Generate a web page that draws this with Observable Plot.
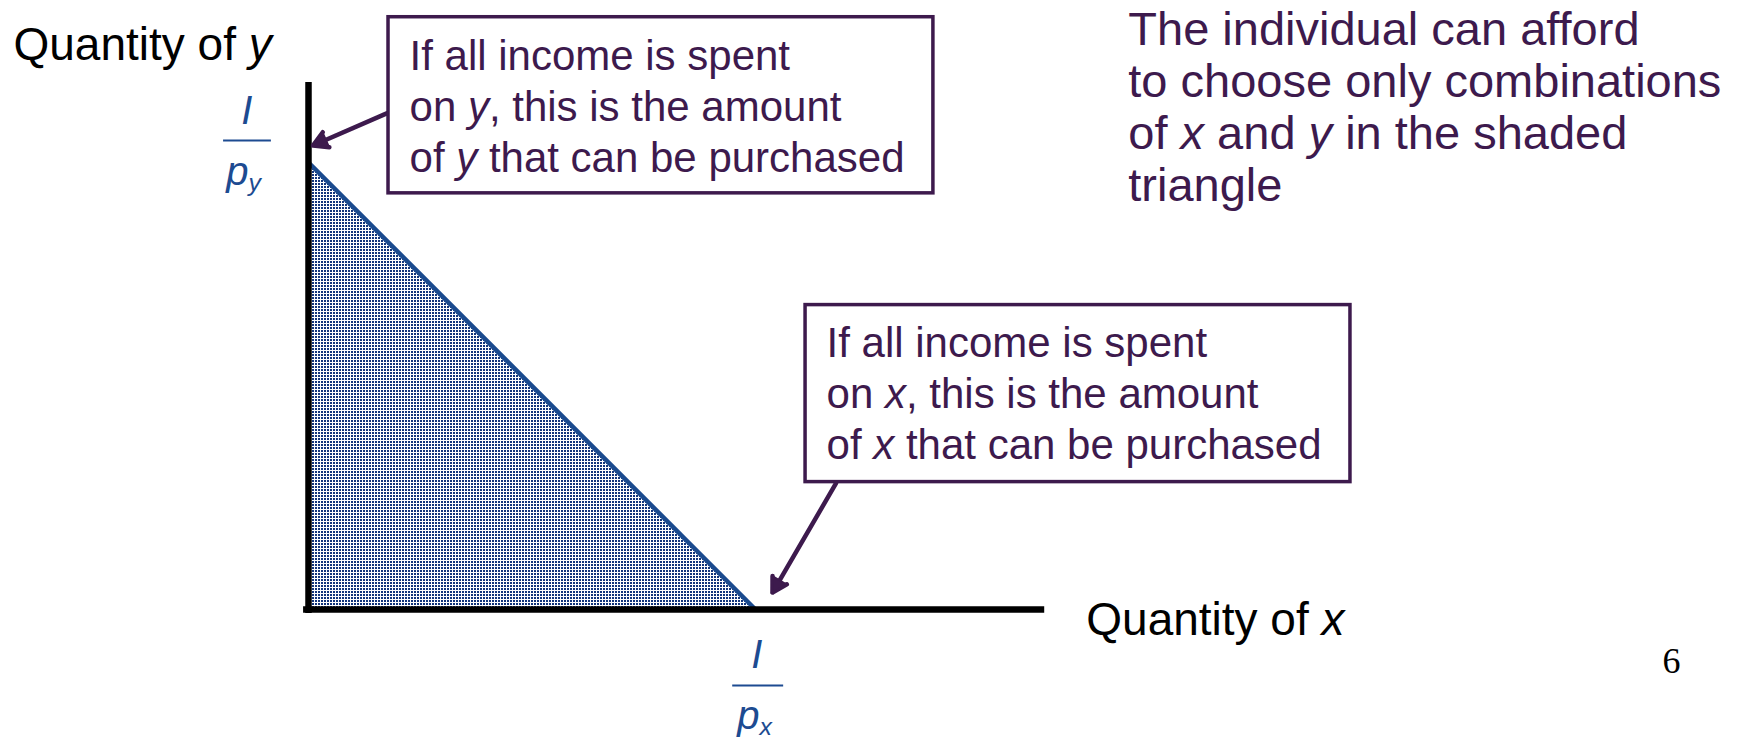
<!DOCTYPE html>
<html>
<head>
<meta charset="utf-8">
<script src="https://cdn.jsdelivr.net/npm/d3@7"></script>
<script src="https://cdn.jsdelivr.net/npm/@observablehq/plot@0.6"></script>
<style>
  html, body { margin: 0; padding: 0; background: #ffffff; }
</style>
</head>
<body>
<div id="chart"></div>
<script>
// ---- Data ----
const budgetX = [0, 10];          // quantity of x along the budget line (I/px = 10)
const budgetY = [10, 0];          // quantity of y along the budget line (I/py = 10)
const axisTitleY = ["Quantity of *y*"];
const axisTitleX = ["Quantity of *x*"];
const interceptNum = ["*I*"];
const interceptDenY = ["*p*_{y}"];
const interceptDenX = ["*p*_{x}"];
const noteY = ["If all income is spent\non *y*, this is the amount\nof *y* that can be purchased"];
const noteX = ["If all income is spent\non *x*, this is the amount\nof *x* that can be purchased"];
const sideNote = ["The individual can afford\nto choose only combinations\nof *x* and *y* in the shaded\ntriangle"];
const pageNumber = ["6"];

// ---- Styles ----
const purple = "#3d1a4d";
const blue = "#1d4b91";
const dotBlue = "#12357c";
const sans = "Liberation Sans, Arial, Helvetica, sans-serif";

const budget = budgetX.map((x, i) => ({x, y: budgetY[i]}));

const svg = Plot.plot({
  width: 1746,
  height: 740,
  x: {domain: [0, 10], range: [308, 755], axis: null},
  y: {domain: [0, 10], range: [609, 162], axis: null},
  style: {fontFamily: sans, background: "#ffffff", overflow: "visible"},
  marks: [
    // shaded affordable set
    Plot.areaY(budget, {x: "x", y: "y", fill: blue}),
    // budget line
    Plot.line(budget, {x: "x", y: "y", stroke: "#1a4a8e", strokeWidth: 4.5}),
    // axes
    Plot.ruleX([0], {y1: -0.09, y2: 11.79, stroke: "#000", strokeWidth: 6.5}),
    Plot.ruleY([0], {x1: -0.11, x2: 16.47, stroke: "#000", strokeWidth: 6.5}),
    // callout boxes
    Plot.rect([0], {x1: 1.79, x2: 13.98, y1: 9.31, y2: 13.25, fill: "#fff", stroke: purple, strokeWidth: 3.5}),
    Plot.rect([0], {x1: 11.12, x2: 23.31, y1: 2.85, y2: 6.81, fill: "#fff", stroke: purple, strokeWidth: 3.5}),
    // arrows to the intercepts
    Plot.arrow([0], {x1: 1.75, y1: 11.10, x2: 0.1, y2: 10.38, stroke: purple, strokeWidth: 4.5, headLength: 5.5, headAngle: 60}),
    Plot.arrow([0], {x1: 11.8, y1: 2.82, x2: 10.38, y2: 0.38, stroke: purple, strokeWidth: 4.5, headLength: 5.5, headAngle: 60}),
    // intercept labels I/py and I/px
    Plot.text(interceptNum, {x: -1.38, y: 10.87, text: d => d, fontSize: 40, fill: blue, textAnchor: "middle", lineAnchor: "bottom"}),
    Plot.ruleY([10.49], {x1: -1.9, x2: -0.83, stroke: blue, strokeWidth: 2}),
    Plot.text(interceptDenY, {x: -1.45, y: 9.49, text: d => d, fontSize: 40, fill: blue, textAnchor: "middle", lineAnchor: "bottom"}),
    Plot.text(interceptNum, {x: 10.03, y: -1.30, text: d => d, fontSize: 40, fill: blue, textAnchor: "middle", lineAnchor: "bottom"}),
    Plot.ruleY([-1.70], {x1: 9.49, x2: 10.63, stroke: blue, strokeWidth: 2}),
    Plot.text(interceptDenX, {x: 9.98, y: -2.68, text: d => d, fontSize: 40, fill: blue, textAnchor: "middle", lineAnchor: "bottom"}),
    // axis titles
    Plot.text(axisTitleY, {x: -6.6, y: 12.3, text: d => d, fontSize: 46, fill: "#000", textAnchor: "start", lineAnchor: "bottom"}),
    Plot.text(axisTitleX, {x: 17.4, y: -0.56, text: d => d, fontSize: 46, fill: "#000", textAnchor: "start", lineAnchor: "bottom"}),
    // callout texts
    Plot.text(noteY, {x: 2.26, y: 9.78, text: d => d, fontSize: 42, lineHeight: 1.214, fill: purple, textAnchor: "start", lineAnchor: "bottom"}),
    Plot.text(noteX, {x: 11.59, y: 3.36, text: d => d, fontSize: 42, lineHeight: 1.214, fill: purple, textAnchor: "start", lineAnchor: "bottom"}),
    // side note
    Plot.text(sideNote, {x: 18.34, y: 9.13, text: d => d, fontSize: 47, lineHeight: 1.106, fill: purple, textAnchor: "start", lineAnchor: "bottom"}),
    // page number
    Plot.text(pageNumber, {x: 30.49, y: -1.41, text: d => d, fontSize: 36, fontFamily: "Liberation Serif, Times New Roman, serif", fill: "#000", textAnchor: "middle", lineAnchor: "bottom"})
  ]
});

const NS = "http://www.w3.org/2000/svg";

// dotted pattern for the shaded triangle
const defs = document.createElementNS(NS, "defs");
defs.innerHTML = `<pattern id="dots" patternUnits="userSpaceOnUse" width="3" height="3">
  <rect width="3" height="3" fill="#ffffff"/>
  <rect x="0" y="0" width="2" height="2" fill="${dotBlue}"/>
</pattern>`;
svg.insertBefore(defs, svg.firstChild);
svg.querySelectorAll('g[aria-label="area"], g[aria-label="area"] path').forEach(el => el.setAttribute("fill", "url(#dots)"));

// filled arrowheads: close the wings drawn by Plot.arrow
svg.querySelectorAll('g[aria-label="arrow"] path').forEach(p => {
  const nums = (p.getAttribute("d").match(/-?\d*\.?\d+(?:e-?\d+)?/g) || []).map(Number);
  if (nums.length < 6) return;
  const [ax, ay, tx, ty, bx, by] = nums.slice(-6);
  const head = document.createElementNS(NS, "path");
  head.setAttribute("d", `M${ax},${ay}L${tx},${ty}L${bx},${by}Z`);
  head.setAttribute("fill", purple);
  head.setAttribute("stroke", purple);
  head.setAttribute("stroke-width", "1.5");
  head.setAttribute("stroke-linejoin", "miter");
  p.parentNode.appendChild(head);
});

// rich text: *italic* and _{subscript}
svg.querySelectorAll("text, tspan").forEach(el => {
  if (el.children.length) return;
  const s = el.textContent;
  if (!/[*_]/.test(s)) return;
  el.textContent = "";
  s.split(/(\*[^*]+\*|_\{[^}]+\})/).forEach(part => {
    if (!part) return;
    const t = document.createElementNS(NS, "tspan");
    if (part.startsWith("*")) {
      t.setAttribute("font-style", "italic");
      t.textContent = part.slice(1, -1);
    } else if (part.startsWith("_{")) {
      t.setAttribute("font-style", "italic");
      t.setAttribute("font-size", "0.62em");
      t.setAttribute("dy", "0.22em");
      t.textContent = part.slice(2, -1);
    } else {
      t.textContent = part;
    }
    el.appendChild(t);
  });
});

document.getElementById("chart").appendChild(svg);
</script>
</body>
</html>
